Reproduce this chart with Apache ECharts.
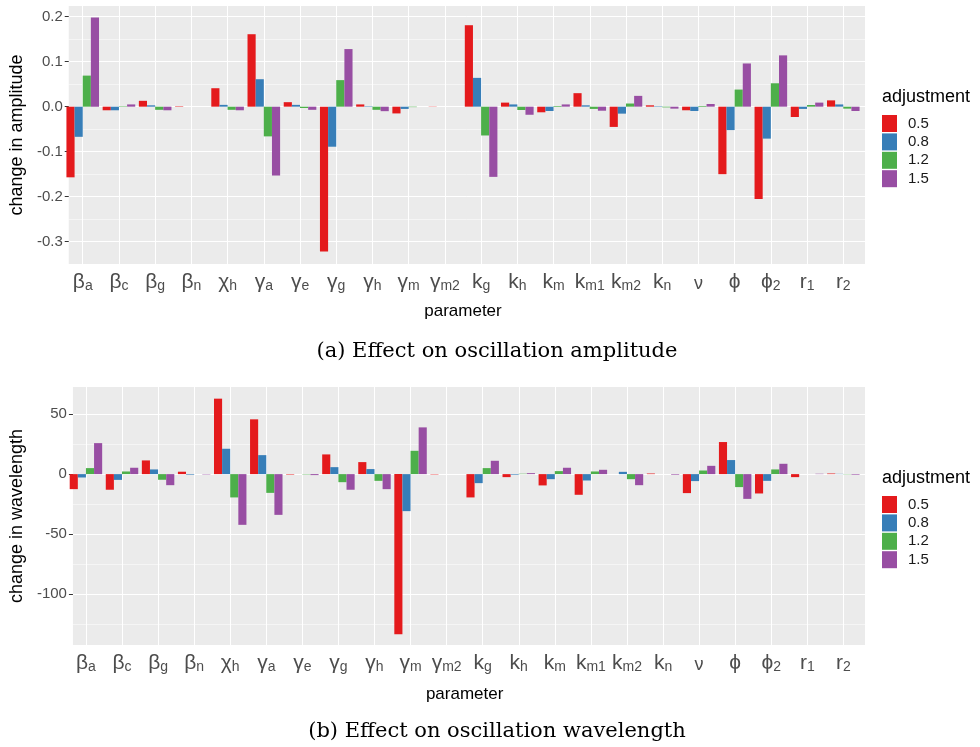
<!DOCTYPE html>
<html>
<head>
<meta charset="utf-8">
<script src="https://cdn.jsdelivr.net/npm/echarts@6/dist/echarts.min.js"></script>
<style>
  html, body { margin: 0; padding: 0; background: #fff; }
  #chart { width: 980px; height: 747px; }
</style>
</head>
<body>
<div id="chart"></div>
<script>
// parameters, "_" marks the subscript part of the label
const categories = ['β_a', 'β_c', 'β_g', 'β_n', 'χ_h', 'γ_a', 'γ_e', 'γ_g', 'γ_h', 'γ_m', 'γ_m2',
  'k_g', 'k_h', 'k_m', 'k_m1', 'k_m2', 'k_n', 'ν', 'ϕ', 'ϕ_2', 'r_1', 'r_2'];
const adjustments = ['0.5', '0.8', '1.2', '1.5'];
const colors = ['#E41A1C', '#377EB8', '#4DAF4A', '#984EA3'];

// (a) change in amplitude
const amp05 = [-0.157, -0.008, 0.013, 0.001, 0.041, 0.161, 0.010, -0.322, 0.005, -0.015, 0.0005,
  0.181, 0.009, -0.0125, 0.030, -0.045, 0.003, -0.008, -0.150, -0.205, -0.023, 0.014];
const amp08 = [-0.067, -0.008, 0.003, 0, 0.004, 0.061, 0.004, -0.089, 0.001, -0.005, 0,
  0.064, 0.005, -0.0096, 0.003, -0.0155, 0.001, -0.0096, -0.052, -0.071, -0.005, 0.005];
const amp12 = [0.069, 0.001, -0.007, 0, -0.007, -0.066, -0.003, 0.059, -0.007, -0.001, 0,
  -0.064, -0.0074, 0.0015, -0.005, 0.007, -0.0015, 0.0015, 0.038, 0.052, 0.0037, -0.0044];
const amp15 = [0.198, 0.005, -0.008, 0, -0.008, -0.153, -0.007, 0.128, -0.010, 0, 0,
  -0.156, -0.018, 0.005, -0.009, 0.024, -0.0044, 0.006, 0.096, 0.114, 0.009, -0.0096];
const ampTicks = [-0.3, -0.2, -0.1, 0, 0.1, 0.2];
const ampMinor = [-0.25, -0.15, -0.05, 0.05, 0.15];

// (b) change in wavelength
const wav05 = [-12.5, -13, 11.4, 2, 62.8, 45.6, -0.4, 16.4, 10, -133.3, -0.3,
  -19.4, -2.5, -9.4, -17.2, 0, 0.5, -15.8, 26.7, -16.1, -2.5, 0.5];
const wav08 = [-2.8, -4.8, 3.9, -0.5, 21.1, 15.8, 0, 5.8, 4.2, -30.8, 0,
  -7.5, -0.5, -4.2, -5.3, 1.9, 0, -5.8, 11.7, -5.6, 0, 0.2];
const wav12 = [5, 2.2, -4.7, 0, -19.4, -15.6, -0.3, -6.7, -5.6, 19.4, 0,
  5, 0.3, 2.5, 2.2, -4.2, 0, 3, -10.8, 3.9, 0, -0.2];
const wav15 = [25.8, 5.3, -9.2, -0.3, -42.2, -33.9, -0.8, -13, -12.5, 38.9, 0,
  11.1, 0.8, 5.3, 3.6, -9.2, -0.5, 6.9, -20.6, 8.6, 0.3, -0.5];
const wavTicks = [-100, -50, 0, 50];
const wavMinor = [-125, -75, -25, 25];

const SANS = 'Liberation Sans, Arial, sans-serif';
const SERIF = 'DejaVu Serif, serif';

const panels = [
  { box: [61, 6, 804, 258], min: -0.3496, max: 0.2237, ticks: ampTicks, minor: ampMinor,
    series: [amp05, amp08, amp12, amp15], name: 'change in amplitude', nameGap: 34, xNameGap: 39,
    fmt: (v) => v.toFixed(1), legendY: 97, caption: '(a) Effect on oscillation amplitude', captionY: 352 },
  { box: [64.3, 387, 800.7, 258], min: -142.2, max: 72.5, ticks: wavTicks, minor: wavMinor,
    series: [wav05, wav08, wav12, wav15], name: 'change in wavelength', nameGap: 37, xNameGap: 41,
    fmt: (v) => String(v), legendY: 478, caption: '(b) Effect on oscillation wavelength', captionY: 732 },
];

const tickLabel = (v) => {
  const [m, s] = v.split('_');
  if (m === 'ν') return '{n|ν}';
  return s ? `{m|${m}}{s|${s}}` : `{m|${m}}`;
};

const n = categories.length;
const centers = categories.map((c, i) => i);

const grid = [], xAxis = [], yAxis = [], series = [], legend = [], graphic = [];

panels.forEach((p, k) => {
  const [L, T, W, H] = p.box;
  // ggplot pads a discrete axis by 0.6 of a band on each side
  const w2 = W * n / (n + 0.2);
  const l2 = L + W * 0.1 / (n + 0.2);
  grid.push({ left: L, top: T, width: W, height: H, show: true, backgroundColor: '#EBEBEB', borderWidth: 0 });
  grid.push({ left: l2, top: T, width: w2, height: H });

  const g0 = k * 2, g1 = k * 2 + 1;
  xAxis.push({ gridIndex: g0, type: 'value', show: false });
  xAxis.push({
    gridIndex: g1, type: 'category', data: categories, position: 'bottom',
    axisLine: { show: false, onZero: false },
    axisTick: { alignWithLabel: true, length: 4, lineStyle: { color: '#333' } },
    axisLabel: {
      interval: 0, margin: 5, formatter: tickLabel,
      rich: {
        m: { fontSize: 21, lineHeight: 24, verticalAlign: 'bottom', color: '#4d4d4d', fontFamily: SANS },
        s: { fontSize: 14, lineHeight: 10, verticalAlign: 'bottom', color: '#4d4d4d', fontFamily: SANS },
        n: { fontSize: 18, lineHeight: 24, verticalAlign: 'bottom', color: '#4d4d4d', fontFamily: SANS },
      },
    },
    splitLine: { show: false },
    name: 'parameter', nameLocation: 'middle', nameGap: p.xNameGap,
    nameTextStyle: { fontSize: 17, color: '#000', fontFamily: SANS },
  });
  xAxis.push({
    gridIndex: g1, type: 'value', position: 'top', min: -0.5, max: n - 0.5,
    axisLine: { show: false, onZero: false },
    axisTick: { show: false, customValues: centers },
    axisLabel: { show: false },
    splitLine: { show: true, lineStyle: { color: '#fff', width: 1 } },
  });

  yAxis.push({
    gridIndex: g0, type: 'value', min: p.min, max: p.max,
    axisLine: { show: false },
    axisTick: { show: true, customValues: p.ticks, length: 4, lineStyle: { color: '#333' } },
    axisLabel: { customValues: p.ticks, formatter: p.fmt, fontSize: 15, color: '#4d4d4d', margin: 6, fontFamily: SANS },
    splitLine: { show: true, lineStyle: { color: '#fff', width: 1 } },
    name: p.name, nameLocation: 'middle', nameGap: p.nameGap,
    nameTextStyle: { fontSize: 18, color: '#000', fontFamily: SANS },
  });
  yAxis.push({
    gridIndex: g0, type: 'value', min: p.min, max: p.max, position: 'right',
    axisLine: { show: false },
    axisTick: { show: false, customValues: p.minor },
    axisLabel: { show: false },
    splitLine: { show: true, lineStyle: { color: '#fff', width: 0.5 } },
  });
  yAxis.push({ gridIndex: g1, type: 'value', min: p.min, max: p.max, show: false });

  p.series.forEach((vals, j) => {
    series.push({
      type: 'bar', name: adjustments[j], data: vals,
      xAxisIndex: k * 3 + 1, yAxisIndex: k * 3 + 2,
      itemStyle: { color: colors[j] },
      barCategoryGap: '10%', barGap: '0%',
    });
  });

  legend.push({
    orient: 'vertical', left: 882, top: p.legendY + 18, icon: 'rect', padding: 0,
    itemWidth: 15, itemHeight: 17, itemGap: 1.4, selectedMode: false,
    data: adjustments,
    textStyle: { fontSize: 15, color: '#1a1a1a', fontFamily: SANS, padding: [0, 0, 0, 6] },
  });
  graphic.push({
    type: 'text', x: 882, y: p.legendY,
    style: { text: 'adjustment', fontSize: 18, fontFamily: SANS, fill: '#000', verticalAlign: 'middle' },
  });
  graphic.push({
    type: 'text', x: 497, y: p.captionY,
    style: { text: p.caption, fontSize: 21, fontFamily: SERIF, fill: '#000', align: 'center', verticalAlign: 'middle' },
  });
});

const chart = echarts.init(document.getElementById('chart'));
chart.setOption({
  animation: false,
  color: colors,
  grid, xAxis, yAxis, series, legend, graphic,
});
</script>
</body>
</html>
